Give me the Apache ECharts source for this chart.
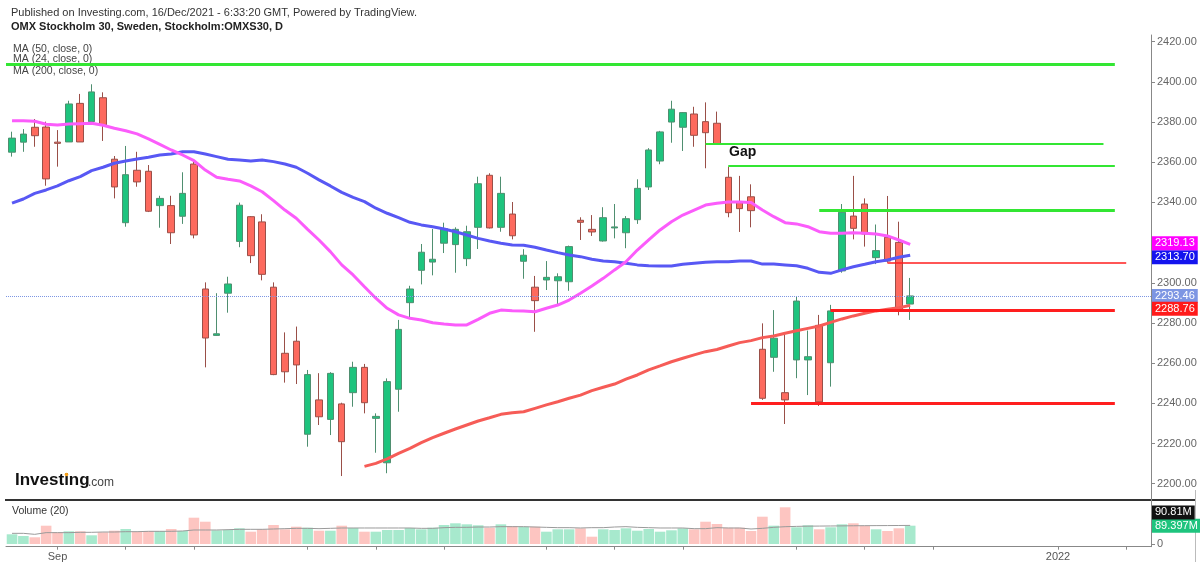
<!DOCTYPE html>
<html>
<head>
<meta charset="utf-8">
<title>OMX Stockholm 30</title>
<script src="https://cdn.jsdelivr.net/npm/echarts@6/dist/echarts.min.js"></script>
<style>
  html, body { margin: 0; padding: 0; background: #fff; }
  #main { width: 1200px; height: 566px; }
</style>
</head>
<body>
<div id="main"></div>
<script>
// daily OHLC, 26 Aug - 16 Dec 2021: [open, close, low, high]
var ohlc = [
  [2365, 2372, 2362.8, 2375.2], [2370, 2374, 2365.2, 2376.5], [2377.4, 2373.2, 2367.7, 2381.5],
  [2377.5, 2351.7, 2348.3, 2380.2], [2370, 2369.4, 2357.8, 2376], [2370.1, 2389, 2370.1, 2390.6],
  [2389.3, 2370.1, 2370.1, 2394], [2380.2, 2395, 2378.9, 2398.8], [2392.1, 2378.5, 2370.6, 2394.8],
  [2361.5, 2347.7, 2342, 2363.1], [2329.9, 2353.8, 2327.9, 2368.1], [2356, 2350.2, 2347.8, 2365.2],
  [2355.5, 2335.6, 2335.2, 2358.6], [2338.4, 2342, 2327.4, 2343.3], [2338.4, 2324.9, 2319.3, 2343.3],
  [2333.1, 2344.5, 2329.3, 2355], [2359.1, 2323.8, 2322.1, 2361.1], [2296.9, 2272.5, 2257.9, 2300.2],
  [2273.8, 2274.6, 2273.5, 2294.8], [2294.8, 2299.4, 2285.1, 2303], [2320.6, 2338.6, 2317.7, 2339.9],
  [2332.9, 2313.5, 2309.8, 2333.2], [2330.3, 2304.2, 2301.2, 2334.1], [2297.8, 2254.3, 2254, 2300.2],
  [2264.9, 2255.7, 2250.3, 2275.3], [2270.9, 2259.1, 2249.6, 2278.2], [2224.6, 2254.3, 2218.4, 2256.6],
  [2241.7, 2233.3, 2229.2, 2255], [2232, 2254.9, 2224.2, 2255.5], [2239.7, 2220.9, 2203.8, 2240.3],
  [2245.3, 2257.9, 2238.3, 2260.7], [2257.9, 2240.3, 2235, 2259.6], [2232.5, 2233.5, 2215.4, 2235],
  [2210.4, 2250.8, 2205.2, 2252.4], [2247, 2276.8, 2235.8, 2281.5], [2290.1, 2296.9, 2282.3, 2298.5],
  [2306.2, 2315.2, 2299.2, 2319.3], [2310.3, 2311.7, 2303.7, 2326.8], [2319.7, 2326.9, 2314.8, 2329.9],
  [2319, 2326.6, 2305, 2327.6], [2312, 2325.4, 2308.3, 2328.4], [2327.6, 2349.3, 2316.8, 2352.8],
  [2353.5, 2327.3, 2327, 2354.5], [2327.6, 2344.5, 2325.4, 2352.8], [2334.2, 2323.4, 2321.6, 2340.2],
  [2310.7, 2313.7, 2302, 2316.7], [2297.8, 2291.1, 2275.6, 2303.4], [2301.4, 2302.7, 2296.4, 2310.8],
  [2301, 2303, 2288.6, 2304.7], [2300.5, 2318, 2296, 2318.5], [2331.1, 2330.1, 2321.3, 2332.6],
  [2326.6, 2325.3, 2323.3, 2333.7], [2320.8, 2332.4, 2320.5, 2337.6], [2327.3, 2327.8, 2322.1, 2339.2],
  [2324.9, 2331.9, 2317.2, 2333.2], [2331.4, 2347, 2329.3, 2351.5], [2347.7, 2366.1, 2346.2, 2367],
  [2360.6, 2375.1, 2359, 2375.6], [2380, 2386.4, 2369.7, 2390.6], [2377.4, 2384.7, 2365.6, 2385],
  [2384, 2373.4, 2367.7, 2387.6], [2380.2, 2374.7, 2357, 2389.8], [2379.4, 2368.9, 2368.9, 2385.2],
  [2352.5, 2334.9, 2332.6, 2357.8], [2339.9, 2336.9, 2325.3, 2353.2], [2342.8, 2335.9, 2327.6, 2349],
  [2266.9, 2242.5, 2241.7, 2279.8], [2262.9, 2272.4, 2255.7, 2286.4], [2245.3, 2241.7, 2229.7, 2274],
  [2261.6, 2290.9, 2252.5, 2293.4], [2261.6, 2263.2, 2244.1, 2276.2], [2278.8, 2240.7, 2238.7, 2284],
  [2260.2, 2286, 2248.3, 2289], [2305.9, 2335.1, 2305, 2339.2], [2333.2, 2327.1, 2321.6, 2353.2],
  [2339.2, 2324.3, 2318, 2342], [2312.5, 2316, 2309.3, 2329], [2322.6, 2310.8, 2310, 2343.2],
  [2320.1, 2286.8, 2283.8, 2330.4], [2289.4, 2293.46, 2281.5, 2302.4]
];

var ma24 = [
  2380.7, 2380.6, 2380.4, 2378.9, 2378.5, 2379, 2379.2, 2379.4, 2378.4, 2376.9,
  2375.7, 2374.1, 2371.6, 2368.9, 2366.1, 2363.6, 2360.8, 2356.1, 2352.5, 2351.5,
  2350.7, 2348.2, 2345.3, 2340.9, 2336.2, 2332.1, 2326.6, 2321.3, 2315.5, 2308.9,
  2303.9, 2298, 2292.3, 2287.3, 2284, 2282.3, 2281.5, 2280.1, 2279.5, 2279,
  2279, 2281.8, 2284.8, 2286.4, 2286.1, 2285.9, 2285.6, 2287.3, 2288.9, 2291.4,
  2294.8, 2298.4, 2302.2, 2306.4, 2310.5, 2316.3, 2321.3, 2326.3, 2330.4, 2333.7,
  2336.2, 2338.7, 2339.6, 2340.2, 2340.2, 2339.9, 2336.2, 2332.9, 2329.9, 2329.3,
  2327.9, 2325.4, 2324.6, 2324.6, 2324.9, 2324.6, 2324.3, 2323.3, 2321.3, 2319.13
];

var ma50 = [
  2339.6, 2341.7, 2344.5, 2346.2, 2348.2, 2350.8, 2352.8, 2355.8, 2357.5, 2359.5,
  2360.6, 2361.6, 2362.5, 2363.6, 2364.1, 2365.2, 2365.2, 2364.1, 2362.8, 2361.5,
  2361.1, 2360.6, 2361.1, 2360.3, 2359.1, 2357.5, 2354.5, 2351.2, 2348.2, 2345,
  2342.5, 2340.4, 2337.1, 2334.6, 2332.4, 2330.1, 2328.8, 2327.9, 2326.8, 2325.4,
  2323.8, 2322.1, 2320.8, 2319.7, 2318.8, 2318.7, 2317.7, 2316.3, 2315, 2313.8,
  2313, 2311.7, 2310.8, 2310.5, 2309.7, 2308.9, 2308.5, 2308.4, 2308.4, 2309.2,
  2309.7, 2310.2, 2310.5, 2310.5, 2310.8, 2310.8, 2309.3, 2309.3, 2308.9, 2308.5,
  2307.2, 2305.2, 2304.7, 2306.4, 2308, 2309.2, 2310.5, 2311.3, 2312.7, 2313.7
];

// MA200 is only visible from the 32nd bar on
var ma200 = [
  '-', '-', '-', '-', '-', '-', '-', '-', '-', '-',
  '-', '-', '-', '-', '-', '-', '-', '-', '-', '-',
  '-', '-', '-', '-', '-', '-', '-', '-', '-', '-',
  '-', 2208.6, 2210.1, 2212.3, 2215.1, 2217.6, 2220.4, 2222.9, 2225.1, 2227.2,
  2229.2, 2231.2, 2232.8, 2234.5, 2235.3, 2235.8, 2237.5, 2239.2, 2240.8, 2242.5,
  2244.1, 2246.3, 2248, 2249.6, 2252, 2254.1, 2256.6, 2258.6, 2260.7, 2262.4,
  2264.1, 2265.7, 2266.8, 2268.5, 2270.2, 2271.2, 2272.7, 2273.5, 2274.9, 2276.1,
  2277.3, 2278.5, 2280.3, 2282, 2283.5, 2284.8, 2286, 2286.8, 2287.6, 2288.76
];

// volume in millions
var volume = [
  47.4, 39.1, 32.7, 89.4, 57.2, 62.0, 62.0, 42.5, 57.2, 65.0,
  73.3, 60.1, 63.5, 63.5, 73.3, 63.5, 128.5, 108.9, 66.9, 68.4,
  76.7, 60.1, 71.8, 92.8, 71.8, 84.5, 79.6, 65.0, 65.0, 89.4,
  78.2, 60.1, 60.1, 68.4, 68.4, 78.2, 71.8, 79.6, 92.8, 101.1,
  96.2, 91.4, 79.6, 96.2, 87.9, 84.5, 84.5, 60.1, 71.8, 71.8,
  76.7, 35.7, 71.8, 68.4, 76.7, 65.0, 73.3, 60.1, 66.9, 76.7,
  71.8, 108.9, 97.7, 79.6, 79.6, 63.5, 133.4, 89.4, 179.3, 81.6,
  91.4, 71.8, 81.6, 96.2, 101.1, 89.4, 71.8, 63.5, 76.7, 89.397
];

var volumeMa = [
  52.1, 52.1, 47.2, 55.4, 55.4, 55.4, 57.0, 57.0, 58.6, 58.6,
  60.2, 60.2, 61.9, 61.9, 61.9, 63.5, 68.4, 68.4, 68.4, 70.0,
  71.7, 71.7, 71.7, 73.3, 74.9, 76.5, 76.5, 74.9, 76.5, 78.2,
  78.2, 78.2, 78.2, 78.2, 78.2, 78.2, 76.5, 76.5, 79.8, 81.4,
  81.4, 83.0, 83.0, 84.7, 84.7, 84.7, 83.0, 81.4, 79.8, 79.8,
  78.2, 79.8, 79.8, 83.0, 84.7, 81.4, 79.8, 78.2, 78.2, 78.2,
  74.9, 74.9, 79.8, 78.2, 78.2, 73.3, 76.5, 81.4, 84.5, 86.0,
  87.2, 87.6, 88.0, 88.5, 89.0, 89.5, 89.8, 90.0, 90.4, 90.81
];

// hand drawn support / resistance levels: [fromBar, toBar, price]
var greenLevels = [[-0.53, 97, 2409], [61, 96, 2369], [63, 97, 2358], [71, 97, 2336]];
var redLevels = [[77, 98, 2310], [72, 97, 2286.5], [65, 97, 2240]];

// x axis ticks (bar index) and the two labelled ones
var tickBars = [4, 10, 16, 26, 32, 38, 47, 53, 59, 69, 75, 81, 92, 98];
var tickText = { 4: 'Sep', 92: '2022' };
var priceTicks = [2200, 2220, 2240, 2260, 2280, 2300, 2320, 2340, 2360, 2380, 2400, 2420];

var FONT = '"Liberation Sans", Arial, sans-serif';
var UP = '#1ec47e', DOWN = '#fd6a5e';

var chart = echarts.init(document.getElementById('main'));

var candles = ohlc.map(function (d, i) { return [i, d[0], d[1], d[2], d[3]]; });
var isUp = ohlc.map(function (d) { return d[1] >= d[0]; });
function pairs(arr) { return arr.map(function (v, i) { return [i, v]; }); }

function levelLines(list, color, widths) {
  return list.map(function (l, k) {
    return [
      { coord: [l[0], l[2]], lineStyle: { color: color, width: widths[k], type: 'solid' } },
      { coord: [l[1], l[2]] }
    ];
  });
}

// coloured value tag on the right axis (line itself invisible)
function tag(value, bg, text, offset) {
  return {
    yAxis: value,
    lineStyle: { color: 'rgba(0,0,0,0)', width: 0 },
    label: {
      show: true, position: 'end', distance: 1,
      formatter: text, color: '#fff', backgroundColor: bg,
      fontFamily: FONT, fontSize: 11, padding: [2, 3, 1, 3],
      offset: offset || [0, 0]
    }
  };
}

var axisGrey = { color: '#888' };

var option = {
  animation: false,
  textStyle: { fontFamily: FONT },
  grid: [
    { left: 6, right: 49, top: 35, height: 465 },
    { left: 6, right: 49, top: 500, height: 46.7 }
  ],
  xAxis: [
    { type: 'value', gridIndex: 0, min: -0.53, max: 100.18, show: false, splitLine: { show: false } },
    {
      type: 'value', gridIndex: 1, min: -0.53, max: 100.18,
      splitLine: { show: false },
      axisLine: { onZero: false, lineStyle: axisGrey },
      axisTick: { customValues: tickBars, length: 3, lineStyle: axisGrey },
      axisLabel: {
        customValues: [4, 92], color: '#555', fontSize: 11, margin: 5,
        formatter: function (v) { return tickText[v] || ''; }
      }
    }
  ],
  yAxis: [
    {
      type: 'value', gridIndex: 0, position: 'right', min: 2191.87, max: 2423.33,
      splitLine: { show: false },
      axisLine: { show: true, onZero: false, lineStyle: axisGrey },
      axisTick: { show: true, customValues: priceTicks, length: 4, lineStyle: axisGrey },
      axisLabel: {
        customValues: priceTicks, color: '#666', fontSize: 11, margin: 6,
        formatter: function (v) { return v.toFixed(2); }
      }
    },
    {
      type: 'value', gridIndex: 1, position: 'right', min: -13.2, max: 214.9,
      splitLine: { show: false },
      axisLine: { show: true, onZero: false, lineStyle: axisGrey },
      axisTick: { show: true, customValues: [0], length: 4, lineStyle: axisGrey },
      axisLabel: { customValues: [0], color: '#666', fontSize: 11, margin: 6, formatter: '0' }
    }
  ],
  series: [
    {
      name: 'OMXS30', type: 'candlestick', xAxisIndex: 0, yAxisIndex: 0,
      data: candles, encode: { x: 0, y: [1, 2, 3, 4] }, barWidth: 7,
      itemStyle: {
        color: UP, color0: DOWN,
        borderColor: '#4f8f70', borderColor0: '#9a4f48', borderWidth: 1
      },
      markLine: {
        silent: true, symbol: ['none', 'none'],
        label: { show: false },
        data: levelLines(greenLevels, '#33e633', [3, 2, 2, 3])
          .concat(levelLines(redLevels, '#ff1e1e', [1.5, 3, 3]))
          .concat([{
            yAxis: 2293.46,
            lineStyle: { color: '#7d96e3', width: 1, type: 'dotted' },
            label: {
              show: true, position: 'end', distance: 1, formatter: '2293.46',
              color: '#fff', backgroundColor: '#7d96e3', fontFamily: FONT,
              fontSize: 11, padding: [2, 3, 1, 3]
            }
          }])
      }
    },
    {
      name: 'MA (50, close, 0)', type: 'line', xAxisIndex: 0, yAxisIndex: 0,
      data: pairs(ma50), symbol: 'none',
      lineStyle: { color: '#5858f4', width: 3 },
      markLine: { silent: true, symbol: ['none', 'none'], data: [tag(2313.70, '#1414ee', '2313.70', [0, 2])] }
    },
    {
      name: 'MA (24, close, 0)', type: 'line', xAxisIndex: 0, yAxisIndex: 0,
      data: pairs(ma24), symbol: 'none',
      lineStyle: { color: '#fb5cfb', width: 3 },
      markLine: { silent: true, symbol: ['none', 'none'], data: [tag(2319.13, '#ff00ff', '2319.13', [0, -1])] }
    },
    {
      name: 'MA (200, close, 0)', type: 'line', xAxisIndex: 0, yAxisIndex: 0,
      data: pairs(ma200), symbol: 'none',
      lineStyle: { color: '#f65c57', width: 3 },
      markLine: { silent: true, symbol: ['none', 'none'], data: [tag(2288.76, '#ff1a1a', '2288.76', [0, 3.5])] }
    },
    {
      name: 'Volume', type: 'bar', xAxisIndex: 1, yAxisIndex: 1,
      data: pairs(volume), barWidth: 10.6,
      itemStyle: {
        color: function (p) { return isUp[p.dataIndex] ? '#a7e9cd' : '#fdc5c1'; }
      },
      markLine: {
        silent: true, symbol: ['none', 'none'],
        data: [tag(89.397, '#1ec47e', '89.397M'), tag(90.81, '#111', '90.81M', [0, -13])]
      }
    },
    {
      name: 'Volume MA', type: 'line', xAxisIndex: 1, yAxisIndex: 1,
      data: pairs(volumeMa), symbol: 'none',
      lineStyle: { color: '#9a9a9a', width: 1 }
    }
  ],
  graphic: [
    { type: 'text', left: 11, top: 7, style: { text: 'Published on Investing.com, 16/Dec/2021 - 6:33:20 GMT, Powered by TradingView.', font: '11px ' + FONT, fill: '#333' } },
    { type: 'text', left: 11, top: 21, style: { text: 'OMX Stockholm 30, Sweden, Stockholm:OMXS30, D', font: 'bold 11px ' + FONT, fill: '#222' } },
    { type: 'text', left: 13, top: 44, style: { text: 'MA (50, close, 0)', font: '10.5px ' + FONT, fill: '#444' } },
    { type: 'text', left: 13, top: 54, style: { text: 'MA (24, close, 0)', font: '10.5px ' + FONT, fill: '#444' } },
    { type: 'text', left: 13, top: 66, style: { text: 'MA (200, close, 0)', font: '10.5px ' + FONT, fill: '#444' } },
    { type: 'text', left: 729, top: 145, style: { text: 'Gap', font: 'bold 14px ' + FONT, fill: '#111' } },
    { type: 'text', left: 12, top: 506, style: { text: 'Volume (20)', font: '10.5px ' + FONT, fill: '#333' } },
    { type: 'text', left: 15, top: 472, style: { text: 'Investing', font: 'bold 17px ' + FONT, fill: '#111' } },
    { type: 'text', left: 88, top: 477, style: { text: '.com', font: '12px ' + FONT, fill: '#444' } },
    { type: 'circle', shape: { cx: 66.5, cy: 474.5, r: 1.8 }, style: { fill: '#f7a21b' } },
    { type: 'line', shape: { x1: 5, y1: 500, x2: 1196, y2: 500 }, style: { stroke: '#333', lineWidth: 2 } },
    { type: 'line', shape: { x1: 1195.5, y1: 490, x2: 1195.5, y2: 562 }, style: { stroke: '#bbb', lineWidth: 1 } }
  ]
};

chart.setOption(option);
window.addEventListener('resize', function () { chart.resize(); });
</script>
</body>
</html>
